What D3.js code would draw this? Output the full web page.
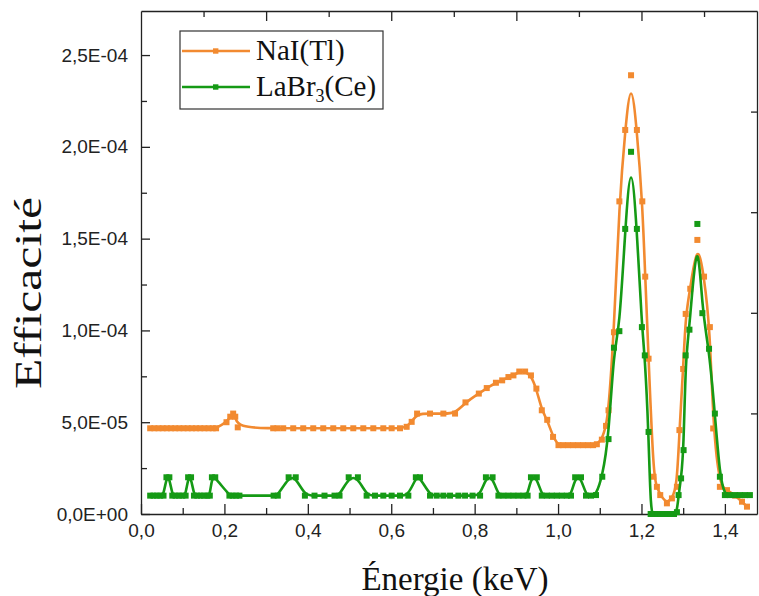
<!DOCTYPE html>
<html>
<head>
<meta charset="utf-8">
<script src="https://d3js.org/d3.v7.min.js"></script>
<style>
  body { margin: 0; background: #fff; }
  svg { display: block; background: #fff; }
  .axis text { font-family: "Liberation Sans", Arial, sans-serif; font-size: 19px; fill: #222; }
  .axis path, .axis line { stroke: #222; stroke-width: 1.3; }
  .title { font-family: "Liberation Serif", "Times New Roman", serif; fill: #111; }
</style>
</head>
<body>
<svg width="759" height="596"></svg>
<script>
// values, efficiency in units of 1E-05
const naiEnergy = [0.022, 0.032, 0.042, 0.052, 0.062, 0.072, 0.082, 0.092, 0.102, 0.112, 0.122, 0.132, 0.142, 0.152, 0.162, 0.172, 0.180,
  0.205, 0.214, 0.221, 0.226, 0.232,
  0.317, 0.327, 0.341, 0.365, 0.389, 0.413, 0.437, 0.461, 0.485, 0.509, 0.533, 0.557, 0.581, 0.601, 0.621,
  0.637, 0.649, 0.662, 0.693, 0.725, 0.753, 0.778, 0.810, 0.829, 0.851, 0.866, 0.881, 0.893, 0.907, 0.921, 0.935, 0.948, 0.961, 0.974, 0.988,
  1.001, 1.012, 1.024, 1.036, 1.048, 1.060, 1.072, 1.084, 1.093, 1.105, 1.115, 1.121, 1.134, 1.147, 1.161, 1.175, 1.189, 1.202, 1.209, 1.217,
  1.229, 1.237, 1.245, 1.261, 1.273, 1.285, 1.291, 1.300, 1.306, 1.317, 1.334, 1.350, 1.364, 1.372, 1.388, 1.405, 1.425, 1.441, 1.453]
const naiEff = [4.67, 4.67, 4.67, 4.67, 4.67, 4.67, 4.67, 4.67, 4.67, 4.67, 4.67, 4.67, 4.67, 4.67, 4.67, 4.67, 4.67,
  5.0, 5.3, 5.47, 5.3, 4.72,
  4.67, 4.67, 4.67, 4.67, 4.67, 4.67, 4.67, 4.67, 4.67, 4.67, 4.67, 4.67, 4.67, 4.67, 4.67,
  4.75, 5.02, 5.47, 5.47, 5.47, 5.47, 6.08, 6.56, 6.86, 7.15, 7.28, 7.46, 7.55, 7.76, 7.76, 7.55, 6.83, 5.65, 5.13, 4.2,
  3.75, 3.75, 3.75, 3.75, 3.75, 3.75, 3.75, 3.75, 3.8, 4.05, 4.8, 5.65, 9.9, 17.03, 20.92, 23.9, 20.92, 17.03, 12.93, 8.46,
  2.03, 1.48, 1.03, 0.58, 0.85, 1.48, 4.57, 7.9, 10.9, 12.27, 14.93, 12.93, 10.18, 4.66, 1.48, 1.3, 1.0, 0.67, 0.4]

const labrEnergy = [0.022, 0.030, 0.038, 0.046, 0.054, 0.061, 0.068, 0.075, 0.083, 0.091, 0.099, 0.107, 0.113, 0.120,
  0.127, 0.135, 0.143, 0.151, 0.159, 0.165, 0.170, 0.178, 0.212, 0.220, 0.228, 0.236, 0.318, 0.328, 0.354, 0.371,
  0.393, 0.416, 0.440, 0.464, 0.476, 0.498, 0.520, 0.541, 0.561, 0.581, 0.601, 0.621, 0.641, 0.659, 0.669,
  0.693, 0.709, 0.725, 0.741, 0.761, 0.777, 0.795, 0.813, 0.827, 0.843, 0.857, 0.869, 0.881, 0.893, 0.905, 0.917, 0.927,
  0.935, 0.949, 0.961, 0.973, 0.985, 0.997, 1.009, 1.021, 1.031, 1.041, 1.055, 1.067, 1.079, 1.091,
  1.106, 1.121, 1.134, 1.147, 1.161, 1.175, 1.189, 1.201, 1.208, 1.217, 1.222, 1.230, 1.238, 1.246, 1.254, 1.262, 1.270, 1.278,
  1.285, 1.289, 1.295, 1.301, 1.306, 1.315, 1.334, 1.346, 1.362, 1.376, 1.388, 1.400, 1.412, 1.424, 1.436, 1.448, 1.460]
const labrEff = [1.0, 1.0, 1.0, 1.0, 1.0, 2.0, 2.0, 1.0, 1.0, 1.0, 1.0, 1.0, 2.0, 2.0,
  1.0, 1.0, 1.0, 1.0, 1.0, 1.0, 2.0, 2.0, 1.0, 1.0, 1.0, 1.0, 1.0, 1.0, 2.0, 2.0,
  1.0, 1.0, 1.0, 1.0, 1.0, 2.0, 2.0, 1.0, 1.0, 1.0, 1.0, 1.0, 1.0, 2.0, 2.0,
  1.0, 1.0, 1.0, 1.0, 1.0, 1.0, 1.0, 1.0, 2.0, 2.0, 1.0, 1.0, 1.0, 1.0, 1.0, 1.0, 1.0,
  2.0, 2.0, 1.0, 1.0, 1.0, 1.0, 1.0, 1.0, 1.0, 2.0, 2.0, 1.0, 1.0, 1.03,
  2.03, 4.08, 9.06, 9.96, 15.53, 19.73, 15.53, 10.18, 8.64, 4.47, 0, 0, 0, 0, 0, 0, 0, 0,
  0.1, 1.03, 1.94, 3.48, 8.64, 10.04, 15.8, 10.94, 9.0, 5.47, 2.03, 1.03, 1.03, 1.03, 1.03, 1.03, 1.03]

const seriesNames = ['NaI(Tl)', 'LaBr3(Ce)']
const seriesColors = ['#F28A30', '#159A15']

const xTicks = [0, 0.2, 0.4, 0.6, 0.8, 1.0, 1.2, 1.4]
const xMinorTicks = [0.1, 0.3, 0.5, 0.7, 0.9, 1.1, 1.3]
const xTopTicks = [0.3, 0.6, 0.9, 1.2]
const xTopMinorTicks = [0.15, 0.45, 0.75, 1.05, 1.35]
const yTicks = [0, 5, 10, 15, 20, 25]
const yMinorTicks = [2.5, 7.5, 12.5, 17.5, 22.5]
const yRightTicks = [1, 2, 3, 4]

const svg = d3.select('svg')
const margin = {top: 11, right: 2, bottom: 82, left: 141}
const width = 759 - margin.left - margin.right
const height = 596 - margin.top - margin.bottom
const g = svg.append('g').attr('transform', 'translate(' + margin.left + ',' + margin.top + ')')

const x = d3.scaleLinear().domain([0, 1.477]).range([0, width])
const y = d3.scaleLinear().domain([0, 27.4]).range([height, 0])
const yRight = d3.scaleLinear().domain([0, 5]).range([height, 0])

// "2,5E-04" style labels
function sciLabel (v) {
  const parts = (v * 1e-5).toExponential(1).split('e')
  const ex = parseInt(parts[1])
  return parts[0].replace('.', ',') + 'E' + (ex < 0 ? '-' : '+') + String(Math.abs(ex)).padStart(2, '0')
}

// bottom axis, ticks pointing in
g.append('g')
  .attr('class', 'axis')
  .attr('transform', 'translate(0,' + height + ')')
  .call(d3.axisBottom(x).tickValues(xTicks).tickSizeInner(-10).tickSizeOuter(0).tickPadding(10)
    .tickFormat(d => d3.format('.1f')(d).replace('.', ',')))
g.append('g')
  .attr('class', 'axis')
  .attr('transform', 'translate(0,' + height + ')')
  .call(d3.axisBottom(x).tickValues(xMinorTicks).tickSizeInner(-6).tickSizeOuter(0).tickFormat(''))
  .select('.domain').remove()

// top axis
g.append('g')
  .attr('class', 'axis')
  .call(d3.axisTop(x).tickValues(xTopTicks).tickSizeInner(-10).tickSizeOuter(0).tickFormat(''))
g.append('g')
  .attr('class', 'axis')
  .call(d3.axisTop(x).tickValues(xTopMinorTicks).tickSizeInner(-6).tickSizeOuter(0).tickFormat(''))
  .select('.domain').remove()

// left axis
g.append('g')
  .attr('class', 'axis')
  .call(d3.axisLeft(y).tickValues(yTicks).tickSizeInner(-9).tickSizeOuter(0).tickPadding(13).tickFormat(sciLabel))
g.append('g')
  .attr('class', 'axis')
  .call(d3.axisLeft(y).tickValues(yMinorTicks).tickSizeInner(-6).tickSizeOuter(0).tickFormat(''))
  .select('.domain').remove()

// right axis
g.append('g')
  .attr('class', 'axis')
  .attr('transform', 'translate(' + width + ',0)')
  .call(d3.axisRight(yRight).tickValues(yRightTicks).tickSizeInner(-6).tickSizeOuter(0).tickFormat(''))

// axis titles
svg.append('text')
  .attr('class', 'title')
  .attr('x', 455)
  .attr('y', 590)
  .attr('text-anchor', 'middle')
  .style('font-size', '33px')
  .text('Énergie (keV)')

svg.append('text')
  .attr('class', 'title')
  .attr('transform', 'translate(41,293) rotate(-90)')
  .attr('text-anchor', 'middle')
  .attr('textLength', 192)
  .attr('lengthAdjust', 'spacingAndGlyphs')
  .style('font-size', '37px')
  .text('Efficacité')

// series
const series = [
  {name: seriesNames[0], color: seriesColors[0], pts: naiEnergy.map((e, i) => [e, naiEff[i]])},
  {name: seriesNames[1], color: seriesColors[1], pts: labrEnergy.map((e, i) => [e, labrEff[i]])}
]

const line = d3.line()
  .x(d => x(d[0]))
  .y(d => y(d[1]))
  .curve(d3.curveBasis)

series.forEach(s => {
  const sg = g.append('g')
  sg.append('path')
    .attr('d', line(s.pts))
    .attr('fill', 'none')
    .attr('stroke', s.color)
    .attr('stroke-width', 2.6)
  sg.selectAll('rect')
    .data(s.pts)
    .enter().append('rect')
      .attr('x', d => x(d[0]) - 3)
      .attr('y', d => y(d[1]) - 3)
      .attr('width', 6)
      .attr('height', 6)
      .attr('fill', s.color)
})

// legend
const legend = svg.append('g').attr('transform', 'translate(180,31)')
legend.append('rect')
  .attr('width', 203)
  .attr('height', 78)
  .attr('fill', '#fff')
  .attr('stroke', '#333')
  .attr('stroke-width', 1.2)

const legendItem = legend.selectAll('g.item')
  .data(series)
  .enter().append('g')
    .attr('class', 'item')
    .attr('transform', (d, i) => 'translate(0,' + (20 + i * 36) + ')')

legendItem.append('line')
  .attr('x1', 2).attr('x2', 70)
  .attr('stroke', d => d.color)
  .attr('stroke-width', 2.6)
legendItem.append('rect')
  .attr('x', 33).attr('y', -2.7)
  .attr('width', 5.4).attr('height', 5.4)
  .attr('fill', d => d.color)

const legendText = legendItem.append('text')
  .attr('class', 'title')
  .attr('x', 76)
  .attr('y', 9)
  .style('font-size', '29px')
legendText.filter((d, i) => i === 0).text(d => d.name)
const lab = legendText.filter((d, i) => i === 1)
lab.append('tspan').text('LaBr')
lab.append('tspan').attr('dy', 6).style('font-size', '18px').text('3')
lab.append('tspan').attr('dy', -6).text('(Ce)')
</script>
</body>
</html>
